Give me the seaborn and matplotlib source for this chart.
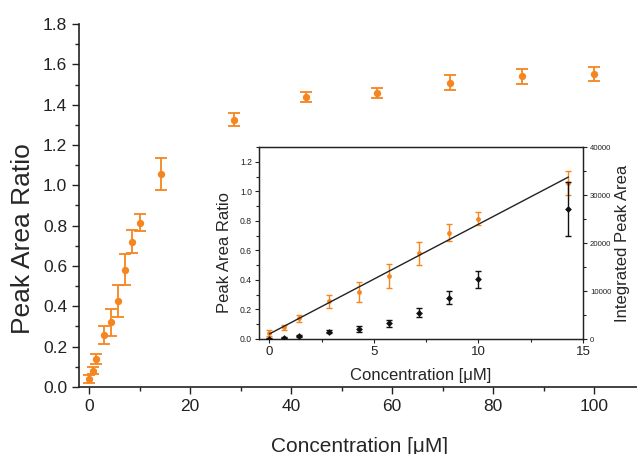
import numpy as np
import pandas as pd
import matplotlib
matplotlib.use("Agg")
import matplotlib.pyplot as plt
import seaborn as sns
from matplotlib.ticker import MultipleLocator, FormatStrFormatter

# ---- data ----
conc = [0, 0.71, 1.43, 2.86, 4.29, 5.71, 7.14, 8.57, 10, 14.3,
        28.6, 42.9, 57.1, 71.4, 85.7, 100]
ratio = [0.04, 0.08, 0.14, 0.255, 0.32, 0.425, 0.58, 0.72, 0.815, 1.055,
         1.325, 1.44, 1.46, 1.51, 1.54, 1.55]
ratio_err = [0.02, 0.017, 0.025, 0.045, 0.067, 0.08, 0.077, 0.057, 0.043, 0.08,
             0.032, 0.025, 0.025, 0.035, 0.035, 0.035]

inset_conc = [0, 0.71, 1.43, 2.86, 4.29, 5.71, 7.14, 8.57, 10, 14.3]
area = [100, 300, 650, 1500, 2100, 3300, 5500, 8600, 12400, 27100]
area_err = [100, 150, 250, 300, 600, 700, 1000, 1300, 1700, 5700]

orange = "#F5861F"
dark = "#222222"

sns.set_style("ticks")
plt.rcParams["font.family"] = ["Liberation Sans", "DejaVu Sans"]

df = pd.DataFrame({"conc": conc, "ratio": ratio, "err": ratio_err})

fig = plt.figure(figsize=(6.37, 4.54), dpi=100)
ax = fig.add_axes([0.124, 0.148, 0.88, 0.799])
ax.errorbar(df["conc"], df["ratio"], yerr=df["err"], fmt="none",
            ecolor=orange, elinewidth=1.3, capsize=4, capthick=1.3)
sns.scatterplot(data=df, x="conc", y="ratio", ax=ax, color=orange,
                s=28, linewidth=0, zorder=3)
ax.set_xlim(-2, 109)
ax.set_ylim(0, 1.8)
ax.xaxis.set_major_locator(MultipleLocator(20))
ax.xaxis.set_minor_locator(MultipleLocator(10))
ax.yaxis.set_major_locator(MultipleLocator(0.2))
ax.yaxis.set_minor_locator(MultipleLocator(0.1))
ax.yaxis.set_major_formatter(FormatStrFormatter("%.1f"))
ax.tick_params(axis="both", which="major", labelsize=12.5, length=5, width=1,
               direction="out", colors=dark)
ax.tick_params(axis="both", which="minor", length=3, width=1, direction="out", colors=dark)
for s in ["top", "right"]:
    ax.spines[s].set_visible(False)
for s in ["left", "bottom"]:
    ax.spines[s].set_linewidth(1.2)
    ax.spines[s].set_color(dark)
ax.set_xlabel("Concentration [μM]", fontsize=15, labelpad=16.5)
ax.set_ylabel("Peak Area Ratio", fontsize=19)
ax.yaxis.set_label_coords(-0.078, 0.408)

# ---- inset ----
dfi = pd.DataFrame({"conc": inset_conc, "ratio": ratio[:10], "err": ratio_err[:10],
                    "area": area, "aerr": area_err})
ins = fig.add_axes([259 / 637, 1 - 339 / 454, (583 - 259) / 637, (339 - 147) / 454])
ins.set_facecolor("white")
ins.errorbar(dfi["conc"], dfi["ratio"], yerr=dfi["err"], fmt="none",
             ecolor=orange, elinewidth=1.0, capsize=2.5, capthick=1.0, zorder=2)
sns.scatterplot(data=dfi, x="conc", y="ratio", ax=ins, color=orange, s=12,
                linewidth=0, zorder=3)
coef = np.polyfit(dfi["conc"], dfi["ratio"], 1)
xfit = np.array([min(inset_conc), max(inset_conc)])
ins.plot(xfit, np.polyval(coef, xfit), color=dark, lw=1.0, zorder=4)
ins.set_xlim(-0.5, 15)
ins.set_ylim(0, 1.3)
ins.xaxis.set_major_locator(MultipleLocator(5))
ins.xaxis.set_minor_locator(MultipleLocator(2.5))
ins.yaxis.set_major_locator(MultipleLocator(0.2))
ins.yaxis.set_minor_locator(MultipleLocator(0.1))
ins.yaxis.set_major_formatter(FormatStrFormatter("%.1f"))
ins.tick_params(axis="y", which="major", labelsize=6.2, length=3, width=0.8, pad=2, colors=dark)
ins.tick_params(axis="x", which="major", labelsize=9.5, length=3, width=0.8, pad=2, colors=dark)
ins.tick_params(axis="both", which="minor", length=2, width=0.8, colors=dark)
ins.set_xlabel("Concentration [μM]", fontsize=12, labelpad=7)
ins.set_ylabel("Peak Area Ratio", fontsize=12)
ins.yaxis.set_label_coords(-0.082, 0.453)
for s in ins.spines.values():
    s.set_linewidth(0.9)
    s.set_color(dark)

ins2 = ins.twinx()
ins2.errorbar(dfi["conc"], dfi["area"], yerr=dfi["aerr"], fmt="none",
              ecolor="#111111", elinewidth=1.0, capsize=2.5, capthick=1.0)
sns.scatterplot(data=dfi, x="conc", y="area", ax=ins2, color="#111111", s=12,
                linewidth=0, marker="D", zorder=3)
ins2.set_ylim(0, 40000)
ins2.yaxis.set_major_locator(MultipleLocator(10000))
ins2.yaxis.set_minor_locator(MultipleLocator(5000))
ins2.tick_params(axis="y", which="major", labelsize=5.6, length=3, width=0.8, pad=2, colors=dark)
ins2.tick_params(axis="y", which="minor", length=2, width=0.8, colors=dark)
ins2.set_ylabel("Integrated Peak Area", fontsize=12, labelpad=3)
for s in ins2.spines.values():
    s.set_linewidth(0.9)
    s.set_color(dark)

fig.savefig("out.png", dpi=100)
